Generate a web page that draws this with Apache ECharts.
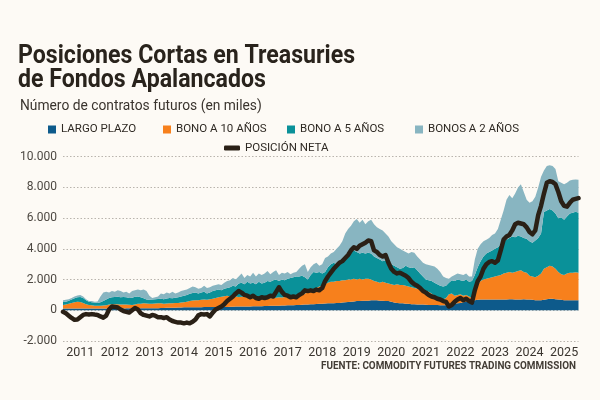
<!DOCTYPE html>
<html>
<head>
<meta charset="utf-8">
<script src="https://cdn.jsdelivr.net/npm/echarts@6/dist/echarts.min.js"></script>
<style>
html,body{margin:0;padding:0;background:#fdfaf5;}
#chart{width:600px;height:400px;}
</style>
</head>
<body>
<div id="chart"></div>
<script>
// Monthly, Jan 2011 .. Dec 2025 (thousands of contracts)
var firstYear = 2011, lastYear = 2025;
var yTicks = [-2000, 0, 2000, 4000, 6000, 8000, 10000];

var largoPlazo = [
  120,120,120,120,120,120,120,120,120,120,
  120,120,120,120,120,120,120,120,120,120,120,120,
  130,130,130,130,130,130,130,130,130,130,130,130,
  150,150,160,160,170,170,180,180,190,190,200,200,
  200,200,200,210,210,210,210,220,220,220,220,220,
  230,230,240,240,240,250,250,250,260,260,260,270,
  280,280,290,290,300,300,310,310,320,320,330,340,
  350,360,370,380,390,400,410,420,430,440,450,450,
  460,470,480,500,520,540,560,580,600,610,620,620,
  620,650,650,650,620,620,600,600,550,500,480,450,
  450,430,420,400,400,380,380,370,360,350,350,340,
  340,330,320,330,350,380,420,450,480,520,560,600,
  620,650,680,700,700,700,700,700,700,700,700,700,
  700,720,720,700,700,700,720,700,700,680,650,650,
  650,680,720,750,750,720,700,680,650,650,650,650,
  650,650
];
var bono10 = [
  230,260,300,350,400,440,420,360,280,220,
  200,180,170,180,190,210,250,270,280,270,260,260,
  250,230,220,250,290,300,320,310,300,290,310,320,
  300,280,280,290,290,300,300,320,340,370,400,440,
  450,450,480,490,470,510,540,580,630,660,700,730,
  670,720,660,630,640,650,600,550,520,490,460,450,
  450,470,490,510,520,550,520,550,560,580,590,610,
  650,690,730,770,860,950,1040,1130,1170,1260,1350,1400,
  1390,1430,1420,1450,1430,1460,1440,1470,1400,1440,1380,1430,
  1430,1350,1250,1200,1180,1230,1200,1150,1150,1150,1220,1200,
  1200,1170,1130,1100,1050,1020,970,930,890,850,750,610,
  510,420,380,470,700,720,530,550,570,430,440,300,
  180,550,970,1200,1300,1350,1400,1450,1500,1550,1600,1700,
  1750,1780,1730,1800,1850,1900,1780,1750,1550,1520,1500,1600,
  1750,2020,2080,2150,2100,1980,1800,1670,1650,1750,1800,1800,
  1820,1800
];
var bono5 = [
  190,180,200,230,260,290,330,320,250,220,
  200,200,190,220,290,370,430,460,470,490,470,480,
  470,440,470,500,480,420,330,260,250,280,280,290,
  300,290,320,350,320,350,370,400,420,440,480,480,
  500,450,470,500,420,430,500,500,500,420,480,500,
  600,650,650,880,920,800,1000,950,1020,950,1130,1030,
  1070,1150,1070,1150,1180,1050,1170,1090,1170,1200,1230,1250,
  1200,1200,1050,850,1050,1150,1000,950,800,800,1000,1150,
  1250,1100,1300,1450,1650,1800,1850,1850,1800,1650,1750,1650,
  1700,1700,1600,1550,1500,1350,1450,1350,1300,1250,1100,1050,
  1100,1300,1250,1250,1350,1200,1050,900,750,750,800,850,
  850,850,850,800,750,850,950,1000,900,950,1000,950,
  1100,1100,1150,1300,1500,1650,1700,1750,1800,1850,2000,2100,
  2150,2200,2350,2250,2300,2200,2200,2200,2250,2200,2400,2450,
  2600,3700,3700,3700,3650,3600,3500,3700,3600,3700,3850,3900,
  3950,3900
];
var bono2 = [
  110,120,100,100,120,120,120,100,70,40,
  80,60,100,380,550,500,350,400,330,420,400,290,
  350,300,430,420,450,450,570,550,270,100,130,160,
  350,330,390,300,420,280,300,350,350,350,370,430,
  350,300,300,400,350,350,350,350,350,350,400,450,
  450,500,450,450,600,400,450,450,650,500,550,550,
  600,650,500,550,600,400,450,450,450,250,300,300,
  500,650,850,500,500,500,650,400,600,900,700,700,
  700,1000,1000,1100,1400,1500,1650,1900,2150,2000,2150,1900,
  2050,2200,2100,2000,2000,2000,1750,1700,1500,1400,1300,1300,
  1150,900,900,1050,950,900,900,900,1000,1000,1000,1050,
  1000,900,650,500,250,250,400,400,400,400,400,350,
  300,1000,1200,1100,1000,900,900,1000,1000,1200,1600,2000,
  2600,2800,2500,2850,3150,3400,3000,2550,2500,2700,2850,3300,
  3700,2700,2900,2850,2900,2900,2400,2250,2300,2200,2150,2150,
  2100,2150
];
var posicionNeta = [
  -100,-200,-350,-500,-620,-600,-450,-300,-250,-280,
  -250,-280,-300,-400,-480,-350,50,250,220,180,50,-50,
  -100,-150,0,150,50,-200,-300,-350,-400,-300,-350,-450,
  -450,-500,-450,-600,-700,-750,-800,-800,-850,-800,-850,-750,
  -600,-330,-250,-280,-250,-400,-150,50,150,250,400,600,
  750,900,1100,1250,1150,1000,950,850,950,800,750,850,
  800,850,950,900,1200,1500,1200,1000,950,850,900,850,
  1000,1100,1300,1250,1300,1250,1350,1300,1450,1900,2200,2450,
  2700,2900,3100,3200,3400,3600,3900,4100,4000,4200,4300,4400,
  4550,4500,3900,3800,3600,3500,3600,3100,2700,2500,2400,2450,
  2350,2250,2100,1850,1700,1600,1450,1250,1150,1000,900,850,
  750,700,600,550,250,350,550,700,800,650,750,600,
  500,1300,1900,2200,2700,3000,3150,3200,3100,3250,3900,4600,
  4800,4900,5200,5600,5700,5650,5600,5400,5100,4950,5200,6200,
  6800,7600,8300,8400,8350,8200,7700,7100,6800,6750,7000,7200,
  7250,7300
];

var months = [];
for (var y = firstYear; y <= lastYear; y++) {
  for (var m = 1; m <= 12; m++) months.push(y + '-' + (m < 10 ? '0' + m : m));
}

var names = ['LARGO PLAZO', 'BONO A 10 AÑOS', 'BONO A 5 AÑOS', 'BONOS A 2 AÑOS', 'POSICIÓN NETA'];
var colors = ['#0d5a8b', '#f7801c', '#0a9199', '#88b5c1', '#2a2016'];
var FONT = 'Roboto, "Noto Sans", sans-serif';

function fmt(v) {
  var s = String(Math.abs(v)).replace(/\B(?=(\d{3})+(?!\d))/g, '.');
  return (v < 0 ? '-' : '') + s;
}

function areaSeries(name, data, color) {
  return {
    name: name, type: 'line', stack: 'total', data: data, color: color,
    showSymbol: false, symbol: 'none', lineStyle: {width: 0},
    areaStyle: {color: color, opacity: 1}, emphasis: {disabled: true}, z: 2
  };
}

function legendItem(name, left, top, extra) {
  var o = {
    data: [name], left: left, top: top, padding: 0, itemWidth: 8, itemHeight: 8, icon: 'rect',
    itemGap: 0, selectedMode: false,
    textStyle: {fontSize: 11.5, color: '#2f2a24', fontFamily: FONT}
  };
  for (var k in extra) o[k] = extra[k];
  return o;
}

var chart = echarts.init(document.getElementById('chart'), null, {renderer: 'canvas'});
chart.setOption({
  backgroundColor: '#fdfaf5',
  animation: false,
  graphic: [
    {type: 'text', x: 18, y: 44, scaleX: 0.89, z: 10,
     style: {text: 'Posiciones Cortas en Treasuries\nde Fondos Apalancados', fontSize: 26, fontWeight: 'bold',
             fontFamily: FONT, fill: '#29231c', lineHeight: 24, align: 'left', verticalAlign: 'top',
             textAlign: 'left', textVerticalAlign: 'top'}},
    {type: 'text', x: 20, y: 106.5, scaleX: 0.92, z: 10,
     style: {text: 'Número de contratos futuros (en miles)', fontSize: 15, fontFamily: FONT, fill: '#3a342e',
             align: 'left', verticalAlign: 'middle', textAlign: 'left', textVerticalAlign: 'middle'}},
    {type: 'text', x: 576, y: 366.5, scaleX: 0.99, z: 10,
     style: {text: 'FUENTE: COMMODITY FUTURES TRADING COMMISSION', fontSize: 10, fontWeight: 'bold',
             fontFamily: FONT, fill: '#433d36', align: 'right', verticalAlign: 'middle',
             textAlign: 'right', textVerticalAlign: 'middle'}}
  ],
  legend: [
    legendItem(names[0], 48, 123.5),
    legendItem(names[1], 163, 123.5),
    legendItem(names[2], 287, 123.5),
    legendItem(names[3], 415, 123.5),
    legendItem(names[4], 224, 142, {icon: 'roundRect', itemWidth: 16, itemHeight: 5})
  ],
  grid: {left: 63, right: 21.5, top: 156.7, bottom: 59, containLabel: false},
  xAxis: {
    type: 'category', data: months, boundaryGap: false,
    axisLine: {show: false}, axisTick: {show: false}, splitLine: {show: false},
    axisLabel: {
      interval: function (i, v) { return v.slice(5) === '07'; },
      formatter: function (v) { return v.slice(0, 4); },
      fontSize: 12.5, color: '#3a352f', fontFamily: FONT, margin: 5
    }
  },
  yAxis: {
    type: 'value', min: yTicks[0], max: yTicks[yTicks.length - 1], interval: 2000,
    axisLine: {show: false}, axisTick: {show: false},
    axisLabel: {formatter: fmt, fontSize: 12, color: '#4d4842', fontFamily: FONT, margin: 6},
    splitLine: {lineStyle: {type: [1.5, 2], color: '#b9b4ad', width: 1}}
  },
  series: [
    areaSeries(names[0], largoPlazo, colors[0]),
    areaSeries(names[1], bono10, colors[1]),
    areaSeries(names[2], bono5, colors[2]),
    areaSeries(names[3], bono2, colors[3]),
    {name: names[4], type: 'line', data: posicionNeta, color: colors[4], showSymbol: false, symbol: 'none',
     lineStyle: {width: 4.5, color: colors[4], join: 'round', cap: 'round'}, emphasis: {disabled: true}, z: 5}
  ]
});
</script>
</body>
</html>
